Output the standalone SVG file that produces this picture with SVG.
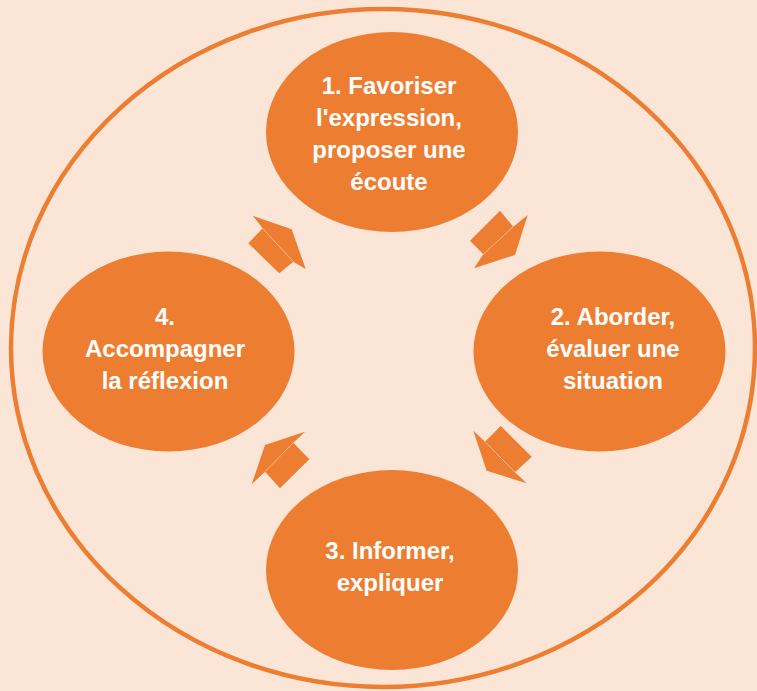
<svg xmlns="http://www.w3.org/2000/svg" width="757" height="691" viewBox="0 0 757 691">
<style>
.node{fill:#ED7D31}
.lbl{fill:#FFFFFF;font-family:"Liberation Sans",Arial,sans-serif;font-weight:bold;font-size:24px;text-anchor:middle}
.arr{fill:#ED7D31}
.seam{stroke:#F6C9A8;stroke-width:0.8;fill:none}
</style>
<rect x="0" y="0" width="757" height="691" fill="#FBE5D6"/>
<ellipse cx="383" cy="348" rx="372" ry="339" fill="none" stroke="#ED7D31" stroke-width="4.5"/>
<g id="node1">
<ellipse class="node" cx="392" cy="132" rx="126" ry="100"/>
<text class="lbl" x="389" y="94">1. Favoriser</text>
<text class="lbl" x="389" y="126">l'expression,</text>
<text class="lbl" x="389" y="158">proposer une</text>
<text class="lbl" x="389" y="190">écoute</text>
</g>
<g id="node2">
<ellipse class="node" cx="599.5" cy="351.5" rx="126" ry="100"/>
<text class="lbl" x="613" y="325">2. Aborder,</text>
<text class="lbl" x="613" y="357">évaluer une</text>
<text class="lbl" x="613" y="389">situation</text>
</g>
<g id="node3">
<ellipse class="node" cx="392" cy="570" rx="126" ry="100"/>
<text class="lbl" x="390" y="559">3. Informer,</text>
<text class="lbl" x="390" y="591">expliquer</text>
</g>
<g id="node4">
<ellipse class="node" cx="168.5" cy="351.5" rx="126" ry="100"/>
<text class="lbl" x="165" y="325">4.</text>
<text class="lbl" x="165" y="357">Accompagner</text>
<text class="lbl" x="165" y="389">la réflexion</text>
</g>
<g id="connectors">
<path class="arr" d="M470,240.7 L500,210.7 L513.3,226.7 L527.7,215 L515,255 L474,268.3 L483.3,254.3 Z"/>
<line class="seam" x1="513.3" y1="226.7" x2="483.3" y2="254.3"/>
<path class="arr" d="M500.7,426 L531.7,456.7 L515,472.3 L526.7,483.3 L486.7,470.7 L473.3,430.7 L485,441.7 Z"/>
<line class="seam" x1="485" y1="441.7" x2="515" y2="472.3"/>
<path class="arr" d="M305,431.7 L265,445 L251.7,484.3 L265,471.7 L280,488.3 L309.3,459.3 L293.3,442.7 Z"/>
<line class="seam" x1="293.3" y1="442.7" x2="265" y2="471.7"/>
<path class="arr" d="M252.7,215.7 L291.7,229.3 L305.7,269 L293.3,261.7 L279.3,273.3 L248.3,243.3 L262.7,228.3 Z"/>
<line class="seam" x1="262.7" y1="228.3" x2="293.3" y2="261.7"/>
</g>
</svg>
